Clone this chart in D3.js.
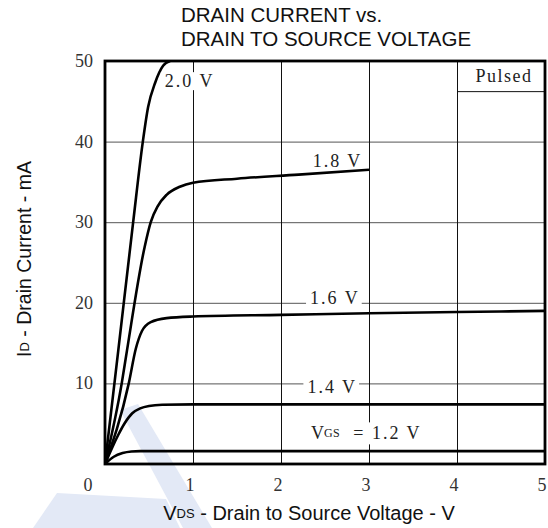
<!DOCTYPE html>
<html>
<head>
<meta charset="utf-8">
<script src="https://cdn.jsdelivr.net/npm/d3@7"></script>
<style>
  body { margin: 0; background: #fff; }
  svg { display: block; }
</style>
</head>
<body>
<script>
// tick values
var xTicks = [0, 1, 2, 3, 4, 5]
var yTicks = [10, 20, 30, 40, 50]

// curves: [Vds (V), Id (mA)]
var vgsNames = ['2.0', '1.8', '1.6', '1.4', '1.2']
var curve20 = [[0,0],[0.15,14],[0.32,30],[0.43,40],[0.49,44.3],[0.57,47.3],[0.66,49.4],[0.74,50]]
var curve18 = [[0,0],[0.19,10],[0.25,14.1],[0.45,26.9],[0.52,30],[0.6,32],[0.7,33.4],[0.85,34.4],[1.0,34.9],[1.5,35.4],[2.2,35.9],[3.0,36.5]]
var curve16 = [[0,0],[0.27,10],[0.35,14.3],[0.42,16.5],[0.52,17.6],[0.7,18.1],[1.0,18.3],[2,18.5],[3,18.7],[4,18.85],[5,19]]
var curve14 = [[0,0],[0.08,2],[0.15,3.6],[0.22,5],[0.31,6.3],[0.4,6.9],[0.5,7.2],[0.65,7.35],[1,7.4],[5,7.4]]
var curve12 = [[0,0],[0.1,0.9],[0.2,1.35],[0.3,1.55],[0.4,1.6],[5,1.6]]
var curves = [curve20, curve18, curve16, curve14, curve12]

var W = 548, H = 528
var margin = {top: 61, right: 3, bottom: 64, left: 105}
var width = W - margin.left - margin.right,
    height = H - margin.top - margin.bottom

var xScale = d3.scaleLinear().domain([0, 5]).range([0, width])
var yScale = d3.scaleLinear().domain([0, 50]).range([height, 0])

var svgRoot = d3.select('body').append('svg')
  .attr('width', W).attr('height', H)

// faint watermark behind everything
svgRoot.append('polygon')
  .attr('points', '120,410 138,404 212,528 183,528')
  .attr('fill', '#e3e9f6')
svgRoot.append('polygon')
  .attr('points', '33,528 57,493 166,499 180,528')
  .attr('fill', '#e3e9f6')

var svg = svgRoot.append('g')
  .attr('transform', 'translate(' + margin.left + ',' + margin.top + ')')

var serif = '"Liberation Serif", "DejaVu Serif", serif'
var sans = '"Liberation Sans", Arial, sans-serif'

// grid
svg.selectAll('.hgrid').data(yTicks.slice(0, -1)).enter().append('line')
  .attr('x1', 0).attr('x2', width)
  .attr('y1', function(d) { return yScale(d) + 0.5 })
  .attr('y2', function(d) { return yScale(d) + 0.5 })
  .attr('stroke', '#555').attr('stroke-width', 1)
svg.selectAll('.vgrid').data(xTicks.slice(1, -1)).enter().append('line')
  .attr('y1', 0).attr('y2', height)
  .attr('x1', function(d) { return xScale(d) + 0.5 })
  .attr('x2', function(d) { return xScale(d) + 0.5 })
  .attr('stroke', '#111').attr('stroke-width', 1)

// "Pulsed" box
svg.append('line')
  .attr('x1', xScale(4)).attr('x2', width)
  .attr('y1', yScale(46.2)).attr('y2', yScale(46.2))
  .attr('stroke', '#111').attr('stroke-width', 1)
svg.append('text')
  .attr('x', (xScale(4) + width) / 2 + 3).attr('y', yScale(48.1))
  .attr('text-anchor', 'middle').attr('dominant-baseline', 'central')
  .attr('font-family', serif).attr('font-size', 18).attr('letter-spacing', 1.5)
  .attr('fill', '#222')
  .text('Pulsed')

// curves
var line = d3.line()
  .x(function(d) { return xScale(d[0]) })
  .y(function(d) { return yScale(d[1]) })
  .curve(d3.curveMonotoneX)

svg.append('defs').append('clipPath').attr('id', 'clip')
  .append('rect').attr('x', 0).attr('y', 0).attr('width', width).attr('height', height)

svg.append('g').attr('clip-path', 'url(#clip)')
  .selectAll('path').data(curves).enter().append('path')
  .attr('d', line)
  .attr('fill', 'none').attr('stroke', '#000').attr('stroke-width', 2.6)
  .attr('stroke-linejoin', 'round')

// curve labels with white backing (they break the grid)
var labels = [
  {text: '2.0 V', x: 0.68, y: 47.5, bg: true},
  {text: '1.8 V', x: 2.36, y: 37.6, bg: false},
  {text: '1.6 V', x: 2.33, y: 20.6, bg: true},
  {text: '1.4 V', x: 2.30, y: 9.6, bg: true}
]
labels.forEach(function(l) {
  var g = svg.append('g')
  var t = g.append('text')
    .attr('x', xScale(l.x)).attr('y', yScale(l.y))
    .attr('dominant-baseline', 'central')
    .attr('font-family', serif).attr('font-size', 18).attr('letter-spacing', 2)
    .attr('fill', '#222')
    .text(l.text)
  if (l.bg) {
    var b = t.node().getBBox()
    g.insert('rect', 'text')
      .attr('x', b.x - 4).attr('y', b.y + 1)
      .attr('width', b.width + 6).attr('height', b.height - 2)
      .attr('fill', '#fff')
  }
})

// VGS = 1.2 V label
var gv = svg.append('g')
var tv = gv.append('text')
  .attr('x', xScale(2.34)).attr('y', yScale(3.8))
  .attr('dominant-baseline', 'central')
  .attr('font-family', serif).attr('font-size', 18).attr('fill', '#222')
tv.append('tspan').text('V')
tv.append('tspan').attr('font-size', 12).attr('letter-spacing', 0.5).text('GS')
tv.append('tspan').attr('letter-spacing', 2).attr('xml:space', 'preserve').text('  = 1.2 V')
var bv = tv.node().getBBox()
gv.insert('rect', 'text')
  .attr('x', bv.x - 3).attr('y', bv.y - 1)
  .attr('width', bv.width + 4).attr('height', bv.height + 2)
  .attr('fill', '#fff')

// frame
svg.append('rect')
  .attr('x', 0).attr('y', 0).attr('width', width).attr('height', height)
  .attr('fill', 'none').attr('stroke', '#000').attr('stroke-width', 2.8)

// tick labels
svg.selectAll('.ylab').data(yTicks).enter().append('text')
  .attr('x', -12).attr('y', function(d) { return yScale(d) })
  .attr('text-anchor', 'end').attr('dominant-baseline', 'central')
  .attr('font-family', serif).attr('font-size', 18).attr('fill', '#333')
  .text(function(d) { return d })
svg.selectAll('.xlab').data(xTicks).enter().append('text')
  .attr('x', function(d) { return d === 0 ? xScale(d) - 17 : xScale(d) - 3 })
  .attr('y', height + 21)
  .attr('text-anchor', 'middle').attr('dominant-baseline', 'central')
  .attr('font-family', serif).attr('font-size', 18).attr('fill', '#333')
  .text(function(d) { return d })

// axis titles
var xt = svgRoot.append('text')
  .attr('x', 309).attr('y', 513)
  .attr('text-anchor', 'middle').attr('dominant-baseline', 'central')
  .attr('font-family', sans).attr('font-size', 20).attr('fill', '#111')
xt.append('tspan').text('V')
xt.append('tspan').attr('font-size', 13).text('DS')
xt.append('tspan').text(' - Drain to Source Voltage - V')

var yt = svgRoot.append('text')
  .attr('transform', 'translate(24,259) rotate(-90)')
  .attr('text-anchor', 'middle').attr('dominant-baseline', 'central')
  .attr('font-family', sans).attr('font-size', 19.5).attr('fill', '#111')
yt.append('tspan').text('I')
yt.append('tspan').attr('font-size', 13).text('D')
yt.append('tspan').text(' - Drain Current - mA')

// title
svgRoot.append('text')
  .attr('x', 181).attr('y', 14).attr('dominant-baseline', 'central')
  .attr('font-family', sans).attr('font-size', 20.5).attr('fill', '#111')
  .text('DRAIN CURRENT vs.')
svgRoot.append('text')
  .attr('x', 181).attr('y', 38).attr('dominant-baseline', 'central')
  .attr('font-family', sans).attr('font-size', 20.5).attr('fill', '#111')
  .text('DRAIN TO SOURCE VOLTAGE')
</script>
</body>
</html>
